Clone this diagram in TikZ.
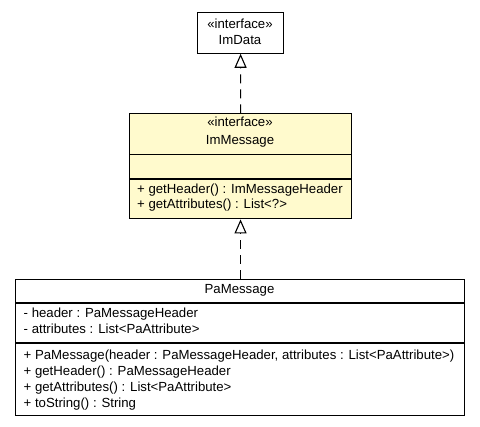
\documentclass[tikz,border=0pt]{standalone}
\usepackage{fontspec}
\setmainfont{Liberation Sans}
\usetikzlibrary{arrows.meta}
\definecolor{umlyellow}{RGB}{255,250,205}
\begin{document}
\begin{tikzpicture}[x=1pt,y=-1pt,
  box/.style={draw=black, line width=1.1pt, inner sep=0pt, anchor=north west},
  ctxt/.style={inner sep=0pt, anchor=base, font=\fontsize{13.2}{15}\selectfont},
  ltxt/.style={inner sep=0pt, anchor=base west, font=\fontsize{13.2}{15}\selectfont},
  realize/.style={draw=black, line width=1.1pt, dash pattern=on 9pt off 6pt,
    -{Triangle[open, length=14pt, width=12pt, fill=white, line width=1.1pt]}}]
\useasboundingbox (0,0) rectangle (480,427);
\fill[white] (0,0) rectangle (480,427);
% ImData
\node[box, minimum width=85.5pt, minimum height=41pt] (imdata) at (197.3,11.7) {};
\node[ctxt] (imdataS) at (240,28.5) {«interface»};
\node[ctxt] (imdataN) at (240,45) {ImData};
% ImMessage
\node[box, fill=umlyellow, minimum width=222pt, minimum height=105pt] (immsg) at (129,113.3) {};
\draw[line width=1.1pt] ([yshift=-41pt]immsg.north west) -- ([yshift=-41pt]immsg.north east);
\draw[line width=1.1pt] ([yshift=-65.7pt]immsg.north west) -- ([yshift=-65.7pt]immsg.north east);
\node[ctxt] (immsgS) at (240,126.7) {«interface»};
\node[ctxt] (immsgN) at (240,145) {ImMessage};
\node[ltxt] (immsgM1) at (137,193.3) {+ getHeader() : ImMessageHeader};
\node[ltxt] (immsgM2) at (137,209) {+ getAttributes() : List<?>};
% PaMessage
\node[box, minimum width=449pt, minimum height=136pt] (pamsg) at (15,279) {};
\draw[line width=1.1pt] ([yshift=-24pt]pamsg.north west) -- ([yshift=-24pt]pamsg.north east);
\draw[line width=1.1pt] ([yshift=-64pt]pamsg.north west) -- ([yshift=-64pt]pamsg.north east);
\node[ctxt] (pamsgN) at (239.5,293.5) {PaMessage};
\node[ltxt] (pamsgA1) at (23.5,317.7) {- header : PaMessageHeader};
\node[ltxt] (pamsgA2) at (23.5,334) {- attributes : List<PaAttribute>};
\node[ltxt] (pamsgM1) at (23.5,360) {+ PaMessage(header : PaMessageHeader, attributes : List<PaAttribute>)};
\node[ltxt] (pamsgM2) at (23.5,376) {+ getHeader() : PaMessageHeader};
\node[ltxt] (pamsgM3) at (23.5,391.7) {+ getAttributes() : List<PaAttribute>};
\node[ltxt] (pamsgM4) at (23.5,407.3) {+ toString() : String};
% realizations
\draw[realize] (immsg.north) -- (imdata.south);
\draw[realize] (pamsg.north -| immsg.south) -- (immsg.south);
\end{tikzpicture}
\end{document}
